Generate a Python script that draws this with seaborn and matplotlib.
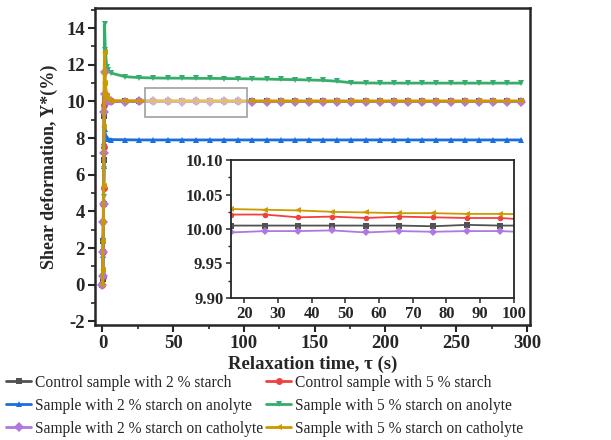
import numpy as np
import pandas as pd
import matplotlib
matplotlib.use("Agg")
import matplotlib.pyplot as plt
import seaborn as sns
from matplotlib.patches import Rectangle
from matplotlib.ticker import MultipleLocator

# ---------------- data ----------------
time_early = [0, 0.2, 0.4, 0.6, 0.8, 1.0, 1.2, 1.5, 2, 3, 4, 6]
time_late = [16, 26, 36, 46, 56, 66, 76, 86, 96, 106, 116, 126, 136, 146, 156,
             166, 176, 186, 196, 206, 216, 226, 236, 246, 256, 266, 276, 286, 296]
time_s = time_early + time_late

labels = ["Control sample with 2 % starch",
          "Control sample with 5 % starch",
          "Sample with 2 % starch on anolyte",
          "Sample with 5 % starch on anolyte",
          "Sample with 2 % starch on catholyte",
          "Sample with 5 % starch on catholyte"]

control_2 = [0, 0.3, 1.8, 2.4, 4.4, 6.8, 9.2, 10.3, 10.1, 10.03, 10.01, 10.006,
             10.005, 10.005, 10.005, 10.005, 10.005, 10.005, 10.004, 10.006, 10.005, 10.005,
             10.005, 10.005, 10.005, 10.005, 10.005, 10.005, 10.005, 10.005, 10.005, 10.005,
             10.005, 10.005, 10.005, 10.005, 10.005, 10.005, 10.005, 10.005, 10.005]
control_5 = [0, 0.4, 1.8, 4.4, 5.3, 7.5, 9.8, 10.3, 10.1, 10.05, 10.03, 10.025,
             10.021, 10.021, 10.017, 10.018, 10.016, 10.018, 10.017, 10.016, 10.016, 10.013,
             10.013, 10.013, 10.012, 10.012, 10.012, 10.012, 10.012, 10.011, 10.011, 10.011,
             10.011, 10.011, 10.011, 10.011, 10.011, 10.011, 10.011, 10.011, 10.011]
anolyte_2 = [0, 0.4, 1.6, 2.6, 4.6, 6.5, 7.8, 8.5, 8.2, 8.0, 7.95, 7.92,
             7.91, 7.9, 7.9, 7.9, 7.9, 7.9, 7.9, 7.9, 7.9, 7.9,
             7.9, 7.9, 7.9, 7.9, 7.9, 7.9, 7.9, 7.9, 7.9, 7.9,
             7.9, 7.9, 7.9, 7.9, 7.9, 7.9, 7.9, 7.9, 7.9]
anolyte_5 = [0, 0.5, 2.2, 3.2, 4.8, 6.3, 9.5, 14.2, 12.8, 11.9, 11.7, 11.55,
             11.35, 11.30, 11.28, 11.27, 11.27, 11.26, 11.26, 11.25, 11.24, 11.23,
             11.22, 11.20, 11.19, 11.17, 11.15, 11.10, 11.02, 11.01, 11.00, 11.00,
             11.00, 11.00, 11.00, 11.00, 11.00, 11.00, 11.00, 11.00, 11.00]
catholyte_2 = [0, 0.5, 1.8, 3.4, 4.4, 7.2, 9.4, 11.6, 10.4, 10.1, 10.02, 9.998,
               9.995, 9.997, 9.997, 9.998, 9.995, 9.997, 9.996, 9.997, 9.997, 9.995,
               9.996, 9.996, 9.996, 9.996, 9.996, 9.996, 9.996, 9.996, 9.996, 9.996,
               9.996, 9.996, 9.996, 9.996, 9.996, 9.996, 9.996, 9.996, 9.996]
catholyte_5 = [0, 0.8, 2.4, 3.4, 5.4, 8.6, 11.5, 12.7, 11.0, 10.3, 10.1, 10.03,
               10.029, 10.028, 10.027, 10.025, 10.024, 10.023, 10.023, 10.022, 10.022, 10.021,
               10.021, 10.021, 10.020, 10.020, 10.020, 10.020, 10.020, 10.020, 10.020, 10.020,
               10.020, 10.020, 10.020, 10.020, 10.020, 10.020, 10.020, 10.020, 10.020]

series = [control_2, control_5, anolyte_2, anolyte_5, catholyte_2, catholyte_5]
colors = ["#515151", "#F14040", "#1A6FDF", "#37AD6B", "#B177DE", "#CC9900"]
markers = ["s", "o", "^", "v", "D", "<"]

# ---------------- style ----------------
sns.set_style("ticks")
plt.rcParams["font.family"] = ["Liberation Serif", "DejaVu Serif"]
plt.rcParams["axes.unicode_minus"] = False

fig = plt.figure(figsize=(6.11, 4.40), dpi=100)
ax = fig.add_axes([0.155, 0.261, 0.712, 0.721])

for lab, vals, c, m in zip(labels, series, colors, markers):
    sns.lineplot(x=time_s, y=vals, ax=ax, color=c, marker=m, markersize=5,
                 markeredgewidth=0, linewidth=2.0, label=lab, legend=False)

ax.set_xlim(-5.5, 302)
ax.set_ylim(-2.2, 15.1)
ax.xaxis.set_major_locator(MultipleLocator(50))
ax.xaxis.set_minor_locator(MultipleLocator(25))
ax.yaxis.set_major_locator(MultipleLocator(2))
ax.yaxis.set_minor_locator(MultipleLocator(1))
for s in ax.spines.values():
    s.set_linewidth(1.8)
ax.tick_params(which="major", length=5, width=1.5, direction="out", labelsize=13.5, pad=2)
ax.tick_params(which="minor", length=3, width=1.2, direction="out")
for t in ax.get_xticklabels() + ax.get_yticklabels():
    t.set_fontweight("bold")
ax.set_xlabel("Relaxation time, τ (s)", fontsize=13.5, fontweight="bold", labelpad=3)
ax.set_ylabel("Shear deformation, Y*(%)", fontsize=13, fontweight="bold", labelpad=6)

ax.add_patch(Rectangle((30, 9.17), 72, 1.57, facecolor="white", alpha=0.4,
                       edgecolor="none", zorder=5))
ax.add_patch(Rectangle((30, 9.17), 72, 1.57, facecolor="none",
                       edgecolor="#a0a0a0", linewidth=1.2, zorder=6))

# ---------------- inset ----------------
axin = fig.add_axes([0.378, 0.323, 0.463, 0.313])
for lab, vals, c, m in zip(labels, series, colors, markers):
    if lab in (labels[2], labels[3]):
        continue
    sns.lineplot(x=time_s, y=vals, ax=axin, color=c, marker=m, markersize=4,
                 markeredgewidth=0, linewidth=1.3, legend=False)
axin.set_xlim(16, 100)
axin.set_ylim(9.90, 10.10)
axin.xaxis.set_major_locator(MultipleLocator(10))
axin.yaxis.set_minor_locator(MultipleLocator(0.025))
axin.set_yticks([9.90, 9.95, 10.00, 10.05, 10.10])
axin.set_yticklabels(["9.90", "9.95", "10.00", "10.05", "10.10"])
for s in axin.spines.values():
    s.set_linewidth(1.3)
axin.tick_params(which="major", length=3.5, width=1.1, direction="out", labelsize=12, pad=2)
axin.tick_params(which="minor", length=2, width=1.0, direction="out")
for t in axin.get_xticklabels() + axin.get_yticklabels():
    t.set_fontweight("bold")
axin.set_xlabel("")
axin.set_ylabel("")

# ---------------- legend (row-wise order) ----------------
handles, labs = ax.get_legend_handles_labels()
order = [0, 2, 4, 1, 3, 5]
fig.legend([handles[i] for i in order], [labs[i] for i in order],
           loc="upper left", bbox_to_anchor=(0.008, 0.152),
           ncol=2, frameon=False, fontsize=11.2, handlelength=1.6,
           handletextpad=0.25, columnspacing=0.2, labelspacing=0.45,
           borderaxespad=0, borderpad=0.1)

fig.savefig("out.png", dpi=100)
